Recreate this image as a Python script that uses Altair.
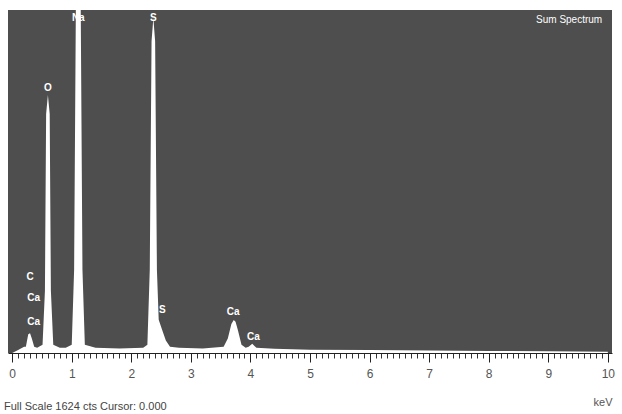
import altair as alt
import pandas as pd

# Spectrum outline (energy keV, counts)
energy = [0.00, 0.10, 0.20, 0.23, 0.27, 0.30, 0.33, 0.37, 0.42,
          0.51, 0.55, 0.57, 0.60, 0.63, 0.65, 0.69, 0.80, 0.90,
          1.00, 1.04, 1.07, 1.11, 1.15, 1.18, 1.22, 1.40, 1.80, 2.20,
          2.27, 2.31, 2.34, 2.37, 2.40, 2.43, 2.46, 2.52, 2.58, 2.65,
          2.80, 3.20, 3.55, 3.62, 3.68, 3.72, 3.75, 3.79, 3.85, 3.92,
          3.97, 4.03, 4.10, 4.40, 5.00, 6.00, 7.00, 8.00, 9.00, 10.00]
counts = [0, 15, 30, 30, 90, 95, 70, 30, 25,
          40, 300, 1150, 1241, 1150, 300, 40, 25, 25,
          40, 400, 1700, 1800, 1700, 400, 40, 25, 22, 25,
          40, 400, 1500, 1611, 1500, 400, 160, 110, 60, 30,
          25, 22, 30, 70, 140, 159, 150, 110, 40, 25,
          30, 45, 25, 20, 16, 14, 12, 10, 8, 6]

# Peak labels
lab_text = ["C", "Ca", "Ca", "O", "Na", "S", "S", "Ca", "Ca"]
lab_energy = [0.30, 0.36, 0.36, 0.60, 1.11, 2.37, 2.52, 3.71, 4.05]
lab_counts = [366, 265, 149, 1275, 1611, 1611, 207, 197, 77]

major_ticks = [0, 1, 2, 3, 4, 5, 6, 7, 8, 9, 10]
minor_ticks = [round(i * 0.1, 1) for i in range(101)]

spec = pd.DataFrame({"energy": energy, "counts": counts})
labs = pd.DataFrame({"text": lab_text, "energy": lab_energy, "counts": lab_counts})

xscale = alt.Scale(domain=[-0.07, 10.07], nice=False, zero=False)
yscale = alt.Scale(domain=[0, 1650], nice=False)

area = alt.Chart(spec).mark_area(color="white", interpolate="linear", clip=True).encode(
    x=alt.X("energy:Q", scale=xscale,
            axis=alt.Axis(orient="bottom", values=major_ticks, format="d", tickSize=9,
                          tickColor="#222", domainColor="#222", labelColor="#555",
                          labelFontSize=12, labelFont="Liberation Sans", labelPadding=6,
                          grid=False, title="keV", titleAnchor="end", titleAlign="right",
                          titleFontWeight="normal", titleFontSize=11, titleColor="#555",
                          titleFont="Liberation Sans", titlePadding=17)),
    y=alt.Y("counts:Q", scale=yscale, axis=None),
)

minor = alt.Chart(spec).mark_area(opacity=0).encode(
    x=alt.X("energy:Q", scale=xscale,
            axis=alt.Axis(orient="bottom", values=minor_ticks, tickSize=5, tickColor="#333",
                          labels=False, domain=False, grid=False, title=None)),
    y=alt.Y("counts:Q", scale=yscale, axis=None),
)

text = alt.Chart(labs).mark_text(color="white", fontSize=10, fontWeight="bold",
                                 font="Liberation Sans").encode(
    x=alt.X("energy:Q", scale=xscale, axis=None),
    y=alt.Y("counts:Q", scale=yscale, axis=None),
    text="text:N",
)

sum_df = pd.DataFrame({"energy": [9.35], "counts": [1600], "text": ["Sum Spectrum"]})
sumtxt = alt.Chart(sum_df).mark_text(color="white", fontSize=10, font="Liberation Sans").encode(
    x=alt.X("energy:Q", scale=xscale, axis=None),
    y=alt.Y("counts:Q", scale=yscale, axis=None),
    text="text:N",
)

chart = alt.layer(minor, area, text, sumtxt).resolve_axis(x="independent").properties(
    width=604, height=343,
    padding={"left": 8, "top": 10, "right": 10, "bottom": 61},
    autosize=alt.AutoSizeParams(type="none"),
    background="white",
    title=alt.TitleParams("Full Scale 1624 cts Cursor: 0.000", orient="bottom", anchor="start",
                          fontSize=11, fontWeight="normal", color="#444",
                          font="Liberation Sans", offset=-6, dx=-4),
).configure_view(fill="#4e4e4e", stroke=None)

chart.save("out.html", embed_options={"renderer": "svg", "actions": False})
